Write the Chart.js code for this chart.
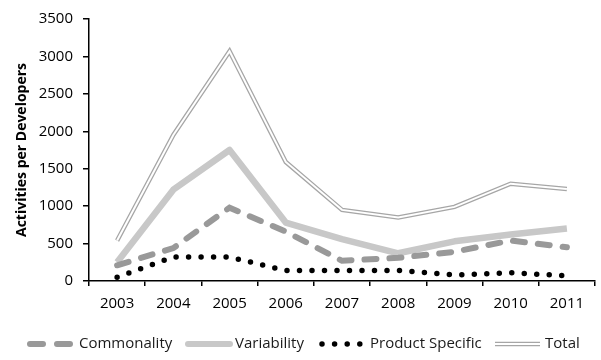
<!DOCTYPE html>
<html>
<head>
<meta charset="utf-8">
<script src="https://cdn.jsdelivr.net/npm/chart.js@4.4.1/dist/chart.umd.min.js"></script>
<style>
  html, body { margin: 0; padding: 0; background: #fff; }
  #wrap { width: 601px; height: 360px; position: relative; }
</style>
</head>
<body>
<div id="wrap"><canvas id="c" width="601" height="360"></canvas></div>
<script>
// Yearly activity counts per developer, by asset kind
const years = ['2003', '2004', '2005', '2006', '2007', '2008', '2009', '2010', '2011'];
const commonality = [210, 440, 980, 660, 270, 310, 390, 540, 450];
const variability = [250, 1220, 1750, 780, 560, 370, 530, 620, 700];
const productSpecific = [50, 320, 320, 140, 140, 140, 80, 110, 70];
const total = [540, 1950, 3070, 1590, 950, 850, 990, 1300, 1230];
const yTicks = [0, 500, 1000, 1500, 2000, 2500, 3000, 3500];

const FONT = '"Open Sans", "Liberation Sans", sans-serif';

// Legend drawn under the plot with line swatches matching each series style
const legendPlugin = {
  id: 'lineLegend',
  afterDraw(chart) {
    const ctx = chart.ctx;
    const y = 344;
    ctx.save();
    ctx.font = '15px ' + FONT;
    ctx.textBaseline = 'middle';
    const items = [
      { label: 'Commonality', sx: 27, tx: 79, draw: (x0) => {
          ctx.strokeStyle = '#999999'; ctx.lineWidth = 6; ctx.lineCap = 'round';
          ctx.setLineDash([13, 14]);
          ctx.beginPath(); ctx.moveTo(x0 + 3, y); ctx.lineTo(x0 + 44, y); ctx.stroke();
        } },
      { label: 'Variability', sx: 185, tx: 235, draw: (x0) => {
          ctx.strokeStyle = '#c8c8c8'; ctx.lineWidth = 6; ctx.lineCap = 'round';
          ctx.setLineDash([]);
          ctx.beginPath(); ctx.moveTo(x0 + 3, y); ctx.lineTo(x0 + 45, y); ctx.stroke();
        } },
      { label: 'Product Specific', sx: 322, tx: 370, draw: (x0) => {
          ctx.strokeStyle = '#000'; ctx.lineWidth = 5.5; ctx.lineCap = 'round';
          ctx.setLineDash([0, 12.6]);
          ctx.beginPath(); ctx.moveTo(x0, y); ctx.lineTo(x0 + 40, y); ctx.stroke();
        } },
      { label: 'Total', sx: 495, tx: 545, draw: (x0) => {
          ctx.setLineDash([]); ctx.lineCap = 'butt';
          ctx.strokeStyle = '#a6a6a6'; ctx.lineWidth = 4.5;
          ctx.beginPath(); ctx.moveTo(x0, y); ctx.lineTo(x0 + 45, y); ctx.stroke();
          ctx.strokeStyle = '#fff'; ctx.lineWidth = 2;
          ctx.beginPath(); ctx.moveTo(x0 - 1, y); ctx.lineTo(x0 + 46, y); ctx.stroke();
        } }
    ];
    items.forEach((it) => {
      it.draw(it.sx);
      ctx.setLineDash([]);
      ctx.fillStyle = '#1a1a1a';
      ctx.fillText(it.label, it.tx, y);
    });
    ctx.restore();
  }
};

new Chart(document.getElementById('c'), {
  type: 'line',
  data: {
    labels: years,
    datasets: [
      {
        label: 'Total',
        data: total,
        borderColor: '#a6a6a6',
        borderWidth: 4.5,
        pointRadius: 0,
        tension: 0,
        order: 4
      },
      {
        label: 'Total (inner)',
        data: total,
        borderColor: '#ffffff',
        borderWidth: 2,
        pointRadius: 0,
        tension: 0,
        order: 3
      },
      {
        label: 'Variability',
        data: variability,
        borderColor: '#c8c8c8',
        borderWidth: 6.5,
        borderJoinStyle: 'round',
        pointRadius: 0,
        tension: 0,
        order: 2
      },
      {
        label: 'Commonality',
        data: commonality,
        borderColor: '#999999',
        borderWidth: 6,
        borderDash: [12, 13],
        borderCapStyle: 'round',
        pointRadius: 0,
        tension: 0,
        order: 1
      },
      {
        label: 'Product Specific',
        data: productSpecific,
        borderColor: '#000000',
        borderWidth: 5.5,
        borderDash: [0, 12.5],
        borderCapStyle: 'round',
        pointRadius: 0,
        tension: 0,
        order: 0
      }
    ]
  },
  options: {
    responsive: false,
    animation: false,
    layout: { padding: { top: 11, right: 6, left: 10, bottom: 39 } },
    plugins: {
      legend: { display: false },
      tooltip: { enabled: false }
    },
    scales: {
      x: {
        offset: true,
        grid: {
          display: true,
          offset: true,
          drawOnChartArea: false,
          drawTicks: true,
          tickLength: 5,
          color: '#000',
          lineWidth: 1.5
        },
        border: { display: true, color: '#000', width: 1.5 },
        ticks: {
          color: '#000',
          font: { family: FONT, size: 15 },
          padding: 9,
          maxRotation: 0
        },
        afterFit(scale) { scale.height = 40; }
      },
      y: {
        min: 0,
        max: 3500,
        afterBuildTicks(scale) { scale.ticks = yTicks.map(v => ({ value: v })); },
        grid: {
          display: true,
          drawOnChartArea: false,
          drawTicks: true,
          tickLength: 6,
          color: '#000',
          lineWidth: 1.5
        },
        border: { display: true, color: '#000', width: 1.5 },
        ticks: {
          color: '#000',
          font: { family: FONT, size: 15 },
          padding: 10,
          callback: (v) => String(v)
        },
        title: {
          display: true,
          text: 'Activities per Developers',
          color: '#000',
          font: { family: FONT, size: 14, weight: 'bold' },
          padding: { top: 4, bottom: 0 }
        },
        afterFit(scale) { scale.width = 79; }
      }
    }
  },
  plugins: [legendPlugin]
});
</script>
</body>
</html>
